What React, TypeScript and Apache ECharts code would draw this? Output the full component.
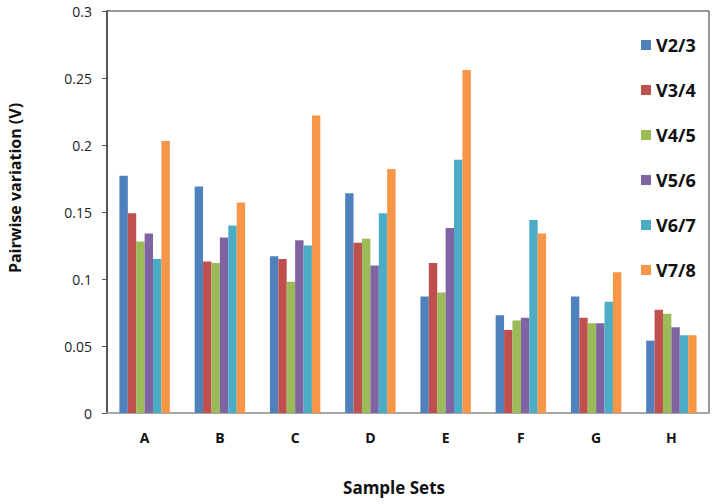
import React, { useEffect, useRef } from "react";
import * as echarts from "echarts";

const categories = ["A", "B", "C", "D", "E", "F", "G", "H"];
const seriesNames = ["V2/3", "V3/4", "V4/5", "V5/6", "V6/7", "V7/8"];
const colors = ["#4F81BD", "#C0504D", "#9BBB59", "#8064A2", "#4BACC6", "#F79646"];
const v23 = [0.177, 0.169, 0.117, 0.164, 0.087, 0.073, 0.087, 0.054];
const v34 = [0.149, 0.113, 0.115, 0.127, 0.112, 0.062, 0.071, 0.077];
const v45 = [0.128, 0.112, 0.098, 0.130, 0.090, 0.069, 0.067, 0.074];
const v56 = [0.134, 0.131, 0.129, 0.110, 0.138, 0.071, 0.067, 0.064];
const v67 = [0.115, 0.140, 0.125, 0.149, 0.189, 0.144, 0.083, 0.058];
const v78 = [0.203, 0.157, 0.222, 0.182, 0.256, 0.134, 0.105, 0.058];
const seriesValues = [v23, v34, v45, v56, v67, v78];
const yTicks = [0, 0.05, 0.1, 0.15, 0.2, 0.25, 0.3];

const FONT = "'Open Sans', 'Noto Sans', sans-serif";

export default function App() {
  const ref = useRef<HTMLDivElement>(null);
  useEffect(() => {
    if (!ref.current) return;
    const chart = echarts.init(ref.current, null, { renderer: "svg" });
    chart.setOption({
      animation: false,
      backgroundColor: "#ffffff",
      color: colors,
      grid: {
        left: 107,
        top: 11,
        right: 9,
        bottom: 91,
        show: true,
        borderColor: "#333333",
        borderWidth: 1,
        backgroundColor: "transparent",
      },
      legend: {
        orient: "vertical",
        left: 636,
        top: 31,
        itemWidth: 10,
        itemHeight: 10,
        itemGap: 27,
        icon: "rect",
        data: seriesNames,
        textStyle: { fontFamily: FONT, fontSize: 18, fontWeight: "bold", color: "#111" },
      },
      xAxis: {
        type: "category",
        data: categories,
        axisLine: { show: true, lineStyle: { color: "#a6a6a6", width: 2 } },
        axisTick: { show: false },
        axisLabel: {
          margin: 17,
          fontFamily: FONT,
          fontSize: 14,
          fontWeight: "bold",
          color: "#111",
        },
        splitLine: { show: false },
      },
      yAxis: {
        type: "value",
        min: yTicks[0],
        max: yTicks[yTicks.length - 1],
        interval: 0.05,
        axisLine: { show: true, lineStyle: { color: "#555555", width: 2 } },
        axisTick: { show: true, length: 5, lineStyle: { color: "#555555", width: 1 } },
        axisLabel: {
          margin: 15,
          fontFamily: FONT,
          fontSize: 14,
          color: "#222",
          formatter: (v: number) => String(parseFloat(v.toFixed(2))),
        },
        splitLine: { show: false },
      },
      series: seriesNames.map((name, i) => ({
        name,
        type: "bar",
        data: seriesValues[i],
        barGap: "0%",
        barCategoryGap: "33%",
        itemStyle: { color: colors[i] },
      })),
      graphic: [
        {
          type: "text",
          x: 15,
          y: 188,
          rotation: Math.PI / 2,
          style: {
            text: "Pairwise variation (V)",
            fontFamily: FONT,
            fontSize: 16,
            fontWeight: "bold",
            fill: "#111",
            align: "center",
            verticalAlign: "middle",
          },
        },
        {
          type: "text",
          x: 394,
          y: 487,
          style: {
            text: "Sample Sets",
            fontFamily: FONT,
            fontSize: 17,
            fontWeight: "bold",
            fill: "#111",
            align: "center",
            verticalAlign: "middle",
          },
        },
      ],
    });
    return () => chart.dispose();
  }, []);
  return <div ref={ref} style={{ width: 718, height: 504, position: "absolute", left: 0, top: 0 }} />;
}
